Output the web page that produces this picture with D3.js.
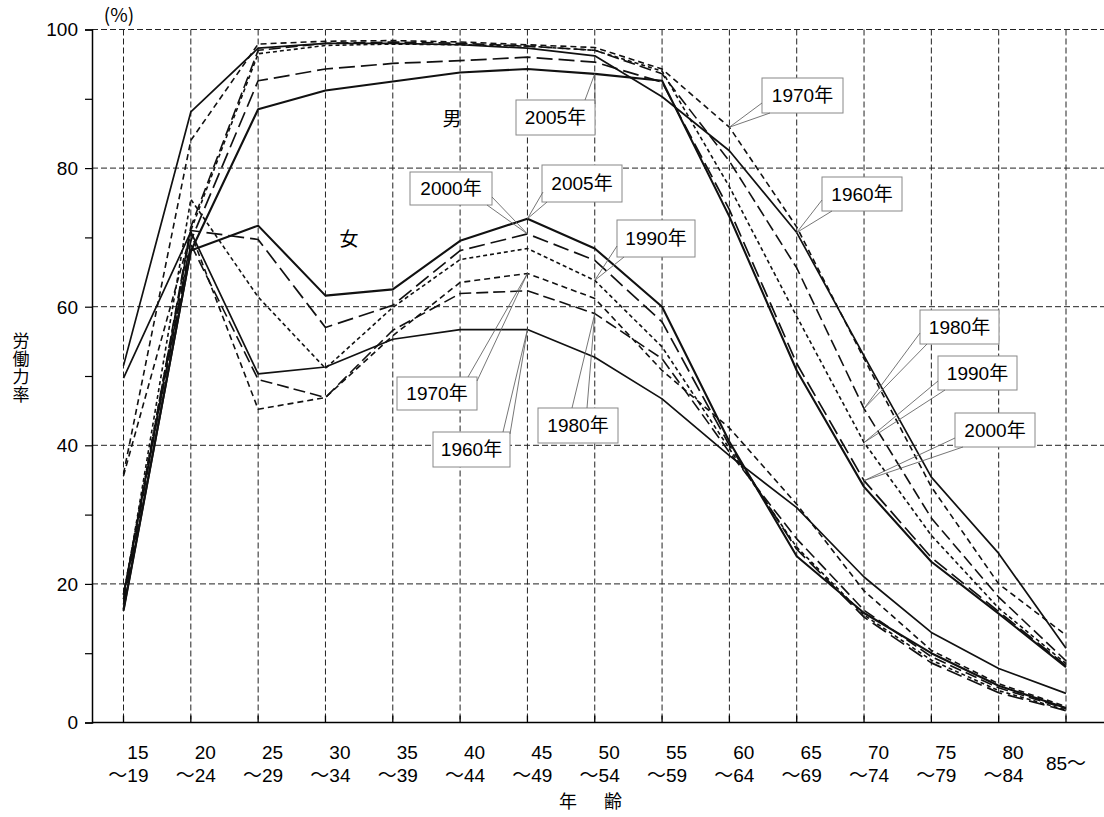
<!DOCTYPE html>
<html><head><meta charset="utf-8">
<script src="https://cdn.jsdelivr.net/npm/d3@7"></script>
<style>body{margin:0;background:#fff}svg{display:block}</style>
</head><body>
<svg id="c" width="1104" height="817"></svg>
<script>
const categories = ["15～19","20～24","25～29","30～34","35～39","40～44","45～49","50～54","55～59","60～64","65～69","70～74","75～79","80～84","85～"];
const tickTop = ["15","20","25","30","35","40","45","50","55","60","65","70","75","80",""];
const tickBottom = ["～19","～24","～29","～34","～39","～44","～49","～54","～59","～64","～69","～74","～79","～84",""];
const yTicks = [0,20,40,60,80,100];
const years = ["1960","1970","1980","1990","2000","2005"];

const men1960 = [51.5,88.1,97.3,98.0,98.0,97.8,97.3,96.2,90.3,82.5,70.7,52.9,35.4,24.4,10.7];
const men1970 = [35.9,84.0,97.9,98.3,98.4,98.2,97.8,97.4,94.3,85.9,71.5,52.5,34.0,20.0,12.6];
const men1980 = [17.8,71.5,97.0,98.0,98.2,98.0,97.6,97.0,93.6,81.0,65.6,45.3,29.5,18.1,8.9];
const men1990 = [18.5,71.0,96.5,97.7,97.9,97.8,97.6,97.0,94.0,77.3,58.6,40.4,27.0,16.5,8.5];
const men2000 = [18.4,69.5,92.6,94.3,95.1,95.5,96.0,95.3,92.4,74.0,51.8,34.9,23.8,16.0,8.2];
const men2005 = [16.3,68.0,88.5,91.2,92.5,93.8,94.3,93.6,92.6,73.0,50.8,34.0,23.2,15.7,8.0];

const women1960 = [49.7,70.8,50.3,51.3,55.3,56.7,56.7,52.7,46.7,38.5,31.0,21.0,13.0,7.8,4.2];
const women1970 = [35.6,70.6,45.2,46.9,55.8,63.5,64.8,61.2,50.8,42.5,31.5,19.0,10.4,5.6,2.3];
const women1980 = [18.5,69.0,49.5,46.9,56.6,61.9,62.3,59.0,52.5,39.0,26.5,16.2,9.5,5.0,2.0];
const women1990 = [17.8,75.5,61.4,51.1,59.9,66.8,68.4,63.8,54.2,39.5,25.3,15.5,9.0,4.6,1.8];
const women2000 = [17.0,71.0,69.7,57.0,60.2,68.1,70.5,66.7,57.8,40.0,25.0,15.2,8.6,4.3,1.7];
const women2005 = [16.1,68.1,71.7,61.6,62.5,69.5,72.7,68.4,60.0,40.5,24.0,15.8,10.0,5.3,2.1];

const dashes = {"1960":null,"1970":"6,4","1980":"12,5","1990":"4,3","2000":"16,6","2005":null};
const widths = {"1960":1.7,"1970":1.6,"1980":1.6,"1990":1.6,"2000":1.7,"2005":2.1};

const series = [
  {sex:"男",year:"1960",values:men1960},{sex:"男",year:"1970",values:men1970},
  {sex:"男",year:"1980",values:men1980},{sex:"男",year:"1990",values:men1990},
  {sex:"男",year:"2000",values:men2000},{sex:"男",year:"2005",values:men2005},
  {sex:"女",year:"1960",values:women1960},{sex:"女",year:"1970",values:women1970},
  {sex:"女",year:"1980",values:women1980},{sex:"女",year:"1990",values:women1990},
  {sex:"女",year:"2000",values:women2000},{sex:"女",year:"2005",values:women2005}
];

// callouts: box layout in px, target from data
const callouts = [
  {sex:"男",year:"2005",cat:7,box:[516,100,79,35],base:[[585,100],[595,104]]},
  {sex:"男",year:"1970",cat:9,box:[762,78,81,35],base:[[762,103],[770,113]]},
  {sex:"男",year:"1960",cat:10,box:[822,177,80,34],base:[[822,200],[832,211]]},
  {sex:"男",year:"1980",cat:11,box:[920,310,79,34],base:[[920,333],[927,344]]},
  {sex:"男",year:"1990",cat:11,box:[938,356,79,34],base:[[938,381],[945,390]]},
  {sex:"男",year:"2000",cat:11,box:[955,413,80,34],base:[[955,438],[963,447]]},
  {sex:"女",year:"2000",cat:6,box:[410,172,82,33],base:[[487,205],[492,197]]},
  {sex:"女",year:"2005",cat:6,box:[542,165,80,37],base:[[543,192],[547,202]]},
  {sex:"女",year:"1990",cat:7,box:[617,220,78,37],base:[[617,246],[624,257]]},
  {sex:"女",year:"1970",cat:6,box:[397,377,80,33],base:[[468,377],[477,381]]},
  {sex:"女",year:"1960",cat:6,box:[433,432,77,35],base:[[503,432],[510,434]]},
  {sex:"女",year:"1980",cat:7,box:[538,408,80,35],base:[[572,408],[587,408]]}
];

const svg = d3.select("#c");
const x = d3.scalePoint().domain(categories).range([123.5, 1066]);
const y = d3.scaleLinear().domain([0,100]).range([722.5, 29.5]);
const left = 92, right = 1104;
const numFont = "'Liberation Sans','Noto Sans CJK JP',Arial,sans-serif";
const cjkFont = "'Noto Sans CJK JP','Liberation Sans',sans-serif";

// horizontal grid
svg.append("g").selectAll("line").data(yTicks.filter(d=>d>0)).join("line")
  .attr("x1",left).attr("x2",right).attr("y1",d=>y(d)).attr("y2",d=>y(d))
  .attr("stroke","#222").attr("stroke-width",1).attr("stroke-dasharray","6,3");
// vertical grid
svg.append("g").selectAll("line").data(categories).join("line")
  .attr("x1",d=>x(d)).attr("x2",d=>x(d)).attr("y1",y(100)).attr("y2",y(0))
  .attr("stroke","#222").attr("stroke-width",1).attr("stroke-dasharray","6,3");

// left axis
const yAxis = d3.axisLeft(y).tickValues(d3.range(0,101,10)).tickSize(7).tickFormat("");
const ya = svg.append("g").attr("transform",`translate(${left},0)`).call(yAxis);
ya.select(".domain").attr("stroke","#000").attr("stroke-width",1.5);
ya.selectAll(".tick line").attr("stroke","#000").attr("stroke-width",1.2);
svg.append("g").selectAll("text").data(yTicks).join("text")
  .attr("x",78).attr("y",d=>y(d)).attr("dy","0.36em").attr("text-anchor","end")
  .attr("font-family",numFont).attr("font-size",19).text(d=>d);

// bottom axis
svg.append("line").attr("x1",left).attr("x2",right).attr("y1",y(0)).attr("y2",y(0))
  .attr("stroke","#000").attr("stroke-width",1.5);
svg.append("g").selectAll("line").data(categories).join("line")
  .attr("x1",d=>x(d)).attr("x2",d=>x(d)).attr("y1",y(0)).attr("y2",y(0)-7)
  .attr("stroke","#000").attr("stroke-width",1.3);

// x tick labels
const xl = svg.append("g").attr("font-family",numFont).attr("font-size",19);
categories.forEach((c,i)=>{
  if (tickTop[i]) {
    xl.append("text").attr("x",x(c)+25).attr("y",759).attr("text-anchor","end").text(tickTop[i]);
    xl.append("text").attr("x",x(c)+25).attr("y",782).attr("text-anchor","end").text(tickBottom[i]);
  } else {
    xl.append("text").attr("x",x(c)).attr("y",770).attr("text-anchor","middle").text(c);
  }
});

// titles
svg.append("text").attr("x",119).attr("y",22).attr("text-anchor","middle")
  .attr("font-family",cjkFont).attr("font-size",19).text("(%)");
svg.append("text").attr("x",21).attr("y",332)
  .style("writing-mode","vertical-rl").style("text-orientation","upright")
  .attr("font-family",cjkFont).attr("font-size",17).attr("letter-spacing",1)
  .text("労働力率");
svg.append("text").attr("x",568).attr("y",808).attr("text-anchor","middle")
  .attr("font-family",cjkFont).attr("font-size",18).text("年");
svg.append("text").attr("x",613).attr("y",808).attr("text-anchor","middle")
  .attr("font-family",cjkFont).attr("font-size",18).text("齢");

// lines
const line = d3.line().x((d,i)=>x(categories[i])).y(d=>y(d));
svg.append("g").selectAll("path").data(series).join("path")
  .attr("d",d=>line(d.values)).attr("fill","none").attr("stroke","#111")
  .attr("stroke-width",d=>widths[d.year]).attr("stroke-linejoin","round")
  .attr("stroke-dasharray",d=>dashes[d.year]);

// sex labels
svg.append("text").attr("x",452).attr("y",126).attr("text-anchor","middle")
  .attr("font-family",cjkFont).attr("font-size",19).text("男");
svg.append("text").attr("x",349).attr("y",246).attr("text-anchor","middle")
  .attr("font-family",cjkFont).attr("font-size",19).text("女");

// callouts
const cg = svg.append("g");
callouts.forEach(co=>{
  const s = series.find(d=>d.sex===co.sex && d.year===co.year);
  const tx = x(categories[co.cat]), ty = y(s.values[co.cat]);
  const [bx,by,bw,bh] = co.box;
  cg.append("rect").attr("x",bx).attr("y",by).attr("width",bw).attr("height",bh)
    .attr("fill","#fff").attr("stroke","#888").attr("stroke-width",1);
  co.base.forEach(p=>{
    cg.append("line").attr("x1",p[0]).attr("y1",p[1]).attr("x2",tx).attr("y2",ty)
      .attr("stroke","#666").attr("stroke-width",0.9);
  });
  cg.append("text").attr("x",bx+bw/2).attr("y",by+bh/2).attr("dy","0.36em")
    .attr("text-anchor","middle").attr("font-family",numFont).attr("font-size",19)
    .text(co.year+"年");
});
</script>
</body></html>
